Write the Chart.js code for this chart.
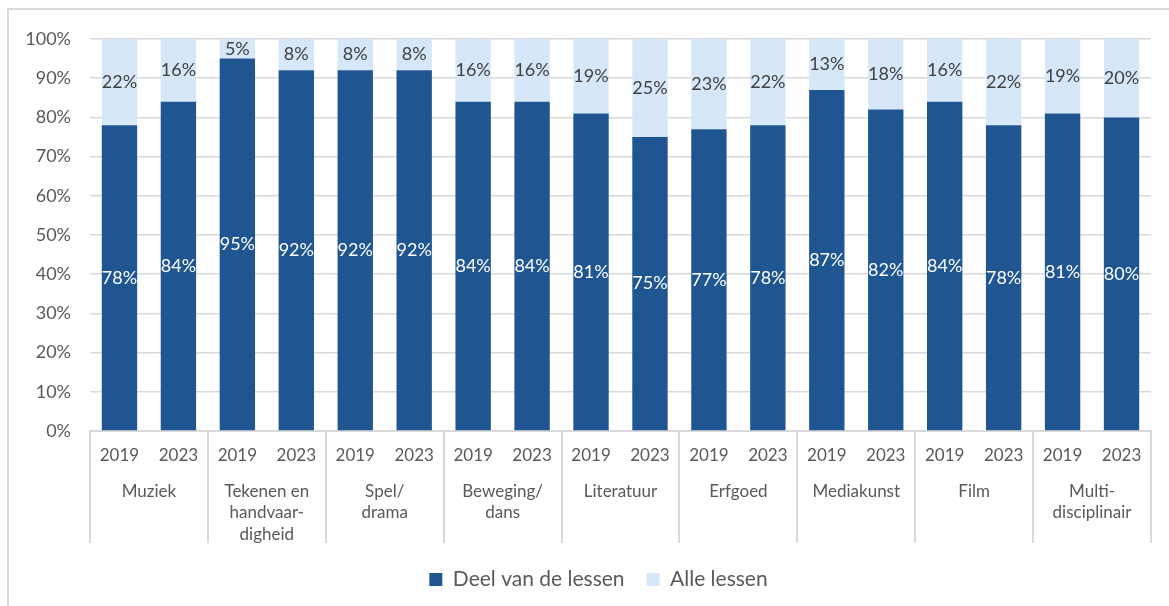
<!DOCTYPE html>
<html>
<head>
<meta charset="utf-8">
<script src="https://cdn.jsdelivr.net/npm/chart.js@4/dist/chart.umd.min.js"></script>
<style>
  body { margin: 0; background: #fff; }
  #frame { position: absolute; left: 7px; top: 8px; width: 1170px; height: 610px;
           border-left: 2px solid #d9d9d9; border-top: 2px solid #d9d9d9; }
  #chart { position: absolute; left: 0; top: 0; }
</style>
</head>
<body>
<div id="frame"></div>
<canvas id="chart" width="1169" height="606"></canvas>
<script>
const years = ["2019", "2023"];
const groups = [
  "Muziek",
  ["Tekenen en", "handvaar-", "digheid"],
  ["Spel/", "drama"],
  ["Beweging/", "dans"],
  "Literatuur",
  "Erfgoed",
  "Mediakunst",
  "Film",
  ["Multi-", "disciplinair"]
];
// per group: 2019, 2023
const deelVanDeLessen = [78, 84, 95, 92, 92, 92, 84, 84, 81, 75, 77, 78, 87, 82, 84, 78, 81, 80];
const alleLessen      = [22, 16, 5, 8, 8, 8, 16, 16, 19, 25, 23, 22, 13, 18, 16, 22, 19, 20];
const yTicks = [0, 10, 20, 30, 40, 50, 60, 70, 80, 90, 100];

const yearLabels = [];
groups.forEach(() => years.forEach(y => yearLabels.push(y)));

const FONT = "Lato";
const GREY = "#595959";

// values inside the bars
const barLabels = {
  id: "barLabels",
  afterDatasetsDraw(chart) {
    const ctx = chart.ctx;
    ctx.save();
    ctx.font = "18px " + FONT;
    ctx.textAlign = "center";
    ctx.textBaseline = "middle";
    chart.data.datasets.forEach((ds, i) => {
      const meta = chart.getDatasetMeta(i);
      meta.data.forEach((bar, j) => {
        ctx.fillStyle = i === 0 ? "#ffffff" : "#404040";
        ctx.fillText(ds.data[j] + "%", bar.x, (bar.y + bar.base) / 2);
      });
    });
    ctx.restore();
  }
};

// vertical separators between the groups below the axis
const groupLines = {
  id: "groupLines",
  afterLayout(chart) {
    // legend sits a bit right of the canvas centre in the original
    chart.legend.left += 23;
    chart.legend.right += 23;
  },
  afterDraw(chart) {
    const x2 = chart.scales.x2;
    const ctx = chart.ctx;
    const n = groups.length;
    const step = (x2.right - x2.left) / n;
    ctx.save();
    ctx.strokeStyle = "#d9d9d9";
    ctx.lineWidth = 2;
    for (let i = 0; i <= n; i++) {
      const px = Math.round(x2.left + i * step);
      ctx.beginPath();
      ctx.moveTo(px, chart.chartArea.bottom);
      ctx.lineTo(px, x2.bottom - 4);
      ctx.stroke();
    }
    ctx.restore();
  }
};

new Chart(document.getElementById("chart"), {
  type: "bar",
  data: {
    labels: yearLabels,
    datasets: [
      { label: "Deel van de lessen", data: deelVanDeLessen, backgroundColor: "#1f5591",
        categoryPercentage: 1, barPercentage: 0.6 },
      { label: "Alle lessen", data: alleLessen, backgroundColor: "#d6e7fa",
        categoryPercentage: 1, barPercentage: 0.6 }
    ]
  },
  options: {
    responsive: false,
    animation: false,
    layout: { padding: { left: 0, right: 18, top: 39, bottom: 6 } },
    plugins: {
      tooltip: { enabled: false },
      legend: {
        position: "bottom",
        labels: {
          font: { family: FONT, size: 21 },
          color: GREY,
          boxWidth: 13,
          boxHeight: 13,
          padding: 22
        }
      }
    },
    scales: {
      x: {
        stacked: true,
        grid: { display: false },
        border: { display: true, color: "#d9d9d9", width: 2 },
        ticks: { font: { family: FONT, size: 17 }, color: GREY, padding: 6, maxRotation: 0, autoSkip: false },
        afterFit(s) { s.height = 36; }
      },
      x2: {
        type: "category",
        labels: groups,
        position: "bottom",
        offset: true,
        grid: { display: false },
        border: { display: false },
        ticks: { font: { family: FONT, size: 17, lineHeight: 1.25 }, color: GREY, padding: 6, maxRotation: 0, autoSkip: false },
        afterFit(s) { s.height = 80; }
      },
      y: {
        stacked: true,
        min: 0,
        max: 100,
        afterBuildTicks(s) { s.ticks = yTicks.map(v => ({ value: v })); },
        grid: { color: "#d9d9d9", lineWidth: 1.5, drawTicks: false },
        border: { display: false },
        ticks: { font: { family: FONT, size: 18 }, color: GREY, padding: 19, callback: v => v + "%" },
        afterFit(s) { s.width = 90; }
      }
    }
  },
  plugins: [barLabels, groupLines]
});
</script>
</body>
</html>
